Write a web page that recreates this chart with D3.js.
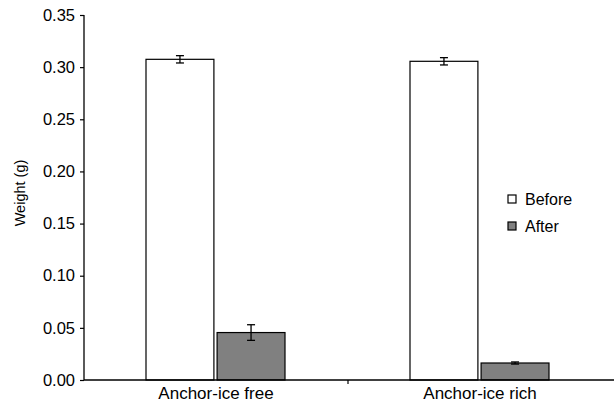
<!DOCTYPE html>
<html>
<head>
<meta charset="utf-8">
<script src="https://cdn.jsdelivr.net/npm/d3@7"></script>
<style>
body { margin: 0; background: #fff; }
text { font-family: "Liberation Sans", Arial, sans-serif; fill: #000; }
</style>
</head>
<body>
<svg width="614" height="402"></svg>
<script>
var categories = ["Anchor-ice free", "Anchor-ice rich"];
var series = ["Before", "After"];
var beforeVals = [0.3075, 0.3056];
var beforeErr = [0.0035, 0.0035];
var afterVals = [0.0455, 0.0163];
var afterErr = [0.0075, 0.001];
var yTicks = [0, 0.05, 0.10, 0.15, 0.20, 0.25, 0.30, 0.35];
var fills = ["#ffffff", "#808080"];

var svg = d3.select("svg");
var mLeft = 84, mRight = 612, mTop = 15, mBottom = 380;

var x = d3.scaleBand().domain(categories).range([mLeft, mRight]);
var inner = d3.scaleBand().domain(series).range([0, 139]).paddingInner(0.045);
var y = d3.scaleLinear().domain([0, 0.35]).range([mBottom, mTop]);

var rows = [];
categories.forEach(function(c, i){
	rows.push({cat: c, s: "Before", v: beforeVals[i], e: beforeErr[i], fill: fills[0]});
	rows.push({cat: c, s: "After", v: afterVals[i], e: afterErr[i], fill: fills[1]});
});

var g = svg.append("g");
g.selectAll("rect.bar").data(rows).enter()
	.append("rect")
	.attr("class", "bar")
	.attr("x", function(d){ return x(d.cat) + x.bandwidth()/2 - 70 + inner(d.s); })
	.attr("y", function(d){ return y(d.v); })
	.attr("width", inner.bandwidth())
	.attr("height", function(d){ return mBottom - y(d.v); })
	.style("fill", function(d){ return d.fill; })
	.style("stroke", "#000")
	.style("stroke-width", 1.2);

// error bars
rows.forEach(function(d){
	var cx = x(d.cat) + x.bandwidth()/2 - 70 + inner(d.s) + inner.bandwidth()/2;
	var y1 = y(d.v + d.e), y2 = y(d.v - d.e);
	g.append("line").attr("x1", cx).attr("x2", cx).attr("y1", y1).attr("y2", y2)
		.style("stroke", "#000").style("stroke-width", 1.3);
	[y1, y2].forEach(function(yy){
		g.append("line").attr("x1", cx - 4).attr("x2", cx + 4).attr("y1", yy).attr("y2", yy)
			.style("stroke", "#000").style("stroke-width", 1.3);
	});
});

// y axis
var yAxis = d3.axisLeft(y).tickValues(yTicks).tickFormat(d3.format(".2f")).tickSize(4).tickPadding(5);
var ya = svg.append("g").attr("transform", "translate(" + mLeft + ",0)").call(yAxis);
ya.select(".domain").remove();
ya.selectAll("line").style("stroke", "#000").style("stroke-width", 1.2);
ya.selectAll("text").style("font-size", "16.5px").style("font-family", "'Liberation Sans', Arial, sans-serif");
svg.append("line").attr("x1", mLeft).attr("x2", mLeft).attr("y1", mTop).attr("y2", mBottom)
	.style("stroke", "#000").style("stroke-width", 1.3);

// x axis
svg.append("line").attr("x1", mLeft).attr("x2", 614).attr("y1", mBottom).attr("y2", mBottom)
	.style("stroke", "#000").style("stroke-width", 1.3);
svg.append("line").attr("x1", x(categories[1])).attr("x2", x(categories[1]))
	.attr("y1", mBottom).attr("y2", mBottom + 4)
	.style("stroke", "#000").style("stroke-width", 1.2);
svg.selectAll("text.cat").data(categories).enter()
	.append("text")
	.attr("class", "cat")
	.attr("x", function(d){ return x(d) + x.bandwidth()/2; })
	.attr("y", 399)
	.attr("text-anchor", "middle")
	.style("font-size", "17px")
	.text(function(d){ return d; });

// y label
svg.append("text")
	.attr("transform", "translate(25,193) rotate(-90)")
	.attr("text-anchor", "middle")
	.style("font-size", "14.5px")
	.text("Weight (g)");

// legend
var lg = svg.append("g").attr("transform", "translate(508,195)");
series.forEach(function(s, i){
	lg.append("rect").attr("x", 0).attr("y", i * 27).attr("width", 8).attr("height", 8)
		.style("fill", fills[i]).style("stroke", "#000").style("stroke-width", 1.2);
	lg.append("text").attr("x", 17).attr("y", i * 27 + 10)
		.style("font-size", "16px").text(s);
});
</script>
</body>
</html>
